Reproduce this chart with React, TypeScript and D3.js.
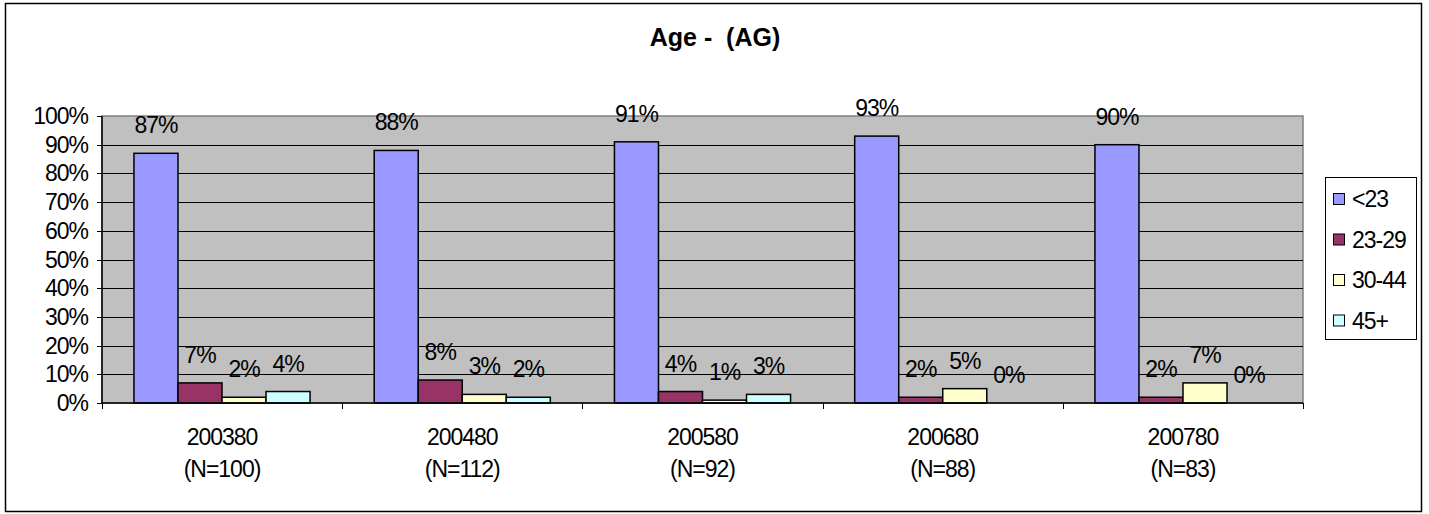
import React, { useRef, useEffect } from "react"
import * as d3 from "d3"

const categories = ["200380", "200480", "200580", "200680", "200780"]
const counts = ["(N=100)", "(N=112)", "(N=92)", "(N=88)", "(N=83)"]
const seriesNames = ["<23", "23-29", "30-44", "45+"]
const under23 = [87, 88, 91, 93, 90]
const age23to29 = [7, 8, 4, 2, 2]
const age30to44 = [2, 3, 1, 5, 7]
const age45plus = [4, 2, 3, 0, 0]
const yTicks = [0, 10, 20, 30, 40, 50, 60, 70, 80, 90, 100]
const colors = ["#9999FF", "#993366", "#FFFFCC", "#CCFFFF"]

const App: React.FC = () => {
  const svgRef = useRef<SVGSVGElement>(null)

  const W = 1429
  const H = 514
  const plot = { left: 102, top: 116, right: 1303, bottom: 403 }
  const font = "'Liberation Sans', Arial, sans-serif"
  const fs = 23
  const ls = -1

  useEffect(() => {
    const svg = d3.select(svgRef.current)
    svg.selectAll("*").remove()

    const series = [under23, age23to29, age30to44, age45plus]

    // outer frame
    svg.append("rect")
      .attr("x", 5.5).attr("y", 3.5)
      .attr("width", 1416).attr("height", 508)
      .attr("fill", "white").attr("stroke", "black").attr("stroke-width", 1.5)

    svg.append("text")
      .attr("x", 715).attr("y", 46)
      .attr("text-anchor", "middle")
      .attr("font-family", font).attr("font-size", 25).attr("font-weight", "bold")
      .style("white-space", "pre")
      .text("Age -  (AG)")

    const x0 = d3.scaleBand<string>()
      .domain(categories)
      .range([plot.left, plot.right])
      .paddingInner(0.267).paddingOuter(0.133)

    // real band boundaries for ticks
    const step = (plot.right - plot.left) / categories.length

    const x1 = d3.scaleBand<number>()
      .domain(d3.range(seriesNames.length))
      .range([0, x0.bandwidth()])

    const y = d3.scaleLinear().domain([0, 100]).range([plot.bottom, plot.top])

    svg.append("rect")
      .attr("x", plot.left).attr("y", plot.top)
      .attr("width", plot.right - plot.left).attr("height", plot.bottom - plot.top)
      .attr("fill", "#C0C0C0").attr("stroke", "#808080").attr("stroke-width", 1.5)

    svg.append("g").selectAll("line")
      .data(yTicks.slice(1, -1))
      .enter().append("line")
      .attr("x1", plot.left).attr("x2", plot.right)
      .attr("y1", d => Math.round(y(d)) + 0.5).attr("y2", d => Math.round(y(d)) + 0.5)
      .attr("stroke", "black").attr("stroke-width", 1)

    // y axis
    const yAxis = svg.append("g")
    yAxis.append("line")
      .attr("x1", plot.left).attr("x2", plot.left)
      .attr("y1", plot.top).attr("y2", plot.bottom)
      .attr("stroke", "black").attr("stroke-width", 1.5)
    yAxis.selectAll("line.tick")
      .data(yTicks)
      .enter().append("line")
      .attr("class", "tick")
      .attr("x1", plot.left - 5).attr("x2", plot.left)
      .attr("y1", d => Math.round(y(d)) + 0.5).attr("y2", d => Math.round(y(d)) + 0.5)
      .attr("stroke", "black")
    yAxis.selectAll("text")
      .data(yTicks)
      .enter().append("text")
      .attr("x", plot.left - 14).attr("y", d => y(d) + 8)
      .attr("text-anchor", "end")
      .attr("font-family", font).attr("font-size", fs).attr("letter-spacing", ls)
      .text(d => d + "%")

    // bars
    const groups = svg.append("g").selectAll("g")
      .data(categories)
      .enter().append("g")
      .attr("transform", d => `translate(${x0(d)},0)`)

    groups.selectAll("rect")
      .data((d, i) => series.map((s, j) => ({ j, v: s[i] })))
      .enter().append("rect")
      .attr("x", d => x1(d.j)!)
      .attr("y", d => y(d.v))
      .attr("width", x1.bandwidth())
      .attr("height", d => plot.bottom - y(d.v))
      .attr("fill", d => colors[d.j])
      .attr("stroke", "black").attr("stroke-width", 1.5)

    groups.selectAll("text")
      .data((d, i) => series.map((s, j) => ({ j, v: s[i] })))
      .enter().append("text")
      .attr("x", d => x1(d.j)! + x1.bandwidth() / 2)
      .attr("y", d => y(d.v) - 20)
      .attr("text-anchor", "middle")
      .attr("font-family", font).attr("font-size", fs).attr("letter-spacing", ls)
      .text(d => d.v + "%")

    // x axis
    const xAxis = svg.append("g")
    xAxis.append("line")
      .attr("x1", plot.left).attr("x2", plot.right)
      .attr("y1", plot.bottom).attr("y2", plot.bottom)
      .attr("stroke", "black").attr("stroke-width", 1.5)
    xAxis.selectAll("line.tick")
      .data(d3.range(categories.length + 1))
      .enter().append("line")
      .attr("class", "tick")
      .attr("x1", d => Math.round(plot.left + d * step) + 0.5)
      .attr("x2", d => Math.round(plot.left + d * step) + 0.5)
      .attr("y1", plot.bottom).attr("y2", plot.bottom + 6)
      .attr("stroke", "black")
    xAxis.selectAll("text.cat")
      .data(categories)
      .enter().append("text")
      .attr("class", "cat")
      .attr("x", d => x0(d)! + x0.bandwidth() / 2).attr("y", 445)
      .attr("text-anchor", "middle")
      .attr("font-family", font).attr("font-size", fs).attr("letter-spacing", ls)
      .text(d => d)
    xAxis.selectAll("text.n")
      .data(counts)
      .enter().append("text")
      .attr("class", "n")
      .attr("x", (d, i) => x0(categories[i])! + x0.bandwidth() / 2).attr("y", 477)
      .attr("text-anchor", "middle")
      .attr("font-family", font).attr("font-size", fs).attr("letter-spacing", ls)
      .text(d => d)

    // legend
    const legend = svg.append("g")
    legend.append("rect")
      .attr("x", 1325.5).attr("y", 177.5)
      .attr("width", 91).attr("height", 162)
      .attr("fill", "white").attr("stroke", "black")
    const items = legend.selectAll("g")
      .data(seriesNames)
      .enter().append("g")
      .attr("transform", (d, i) => `translate(1333,${199 + i * 40.5})`)
    items.append("rect")
      .attr("x", 0.5).attr("y", -5.5)
      .attr("width", 11).attr("height", 11)
      .attr("fill", (d, i) => colors[i]).attr("stroke", "black")
    items.append("text")
      .attr("x", 19).attr("y", 8)
      .attr("font-family", font).attr("font-size", fs).attr("letter-spacing", ls)
      .text(d => d)
  }, [])

  return (
    <svg ref={svgRef} width={W} height={H}
      style={{ position: "absolute", left: 0, top: 0, background: "white" }} />
  )
}

export default App
